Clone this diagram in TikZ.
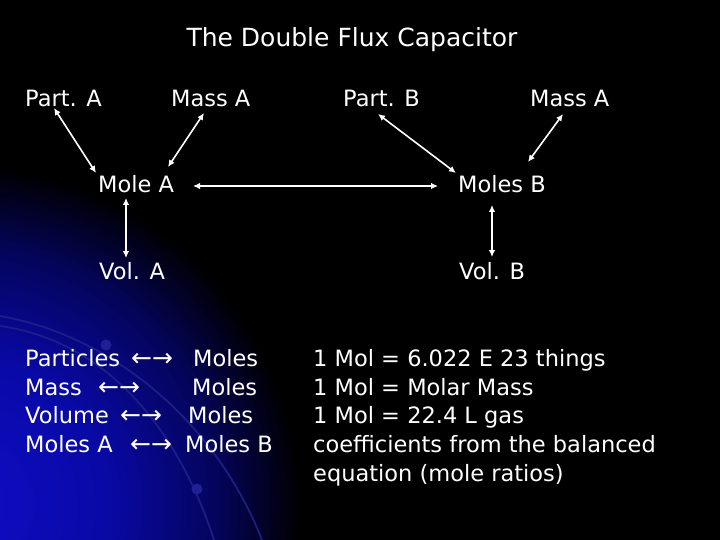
\documentclass[tikz,border=0pt]{standalone}
\usepackage{fontspec}
\setmainfont{DejaVu Sans}
\usetikzlibrary{arrows.meta}
\definecolor{glowA}{RGB}{14,14,200}
\definecolor{glowB}{RGB}{9,9,165}
\definecolor{glowC}{RGB}{4,4,90}
\definecolor{arcblue}{RGB}{34,34,140}
\definecolor{dotblue}{RGB}{32,32,150}
\pgfdeclareradialshading{bgglow}{\pgfpoint{0bp}{0bp}}{color(0bp)=(glowA); color(11bp)=(glowB); color(19bp)=(glowC); color(25bp)=(black); color(50bp)=(black)}
\begin{document}
\begin{tikzpicture}[x=1pt,y=-1pt,
  lbl/.style={inner sep=0pt, anchor=base west, text=white, font=\fontsize{22.5}{27}\selectfont},
  sym/.style={lbl, font=\fontsize{25}{30}\selectfont},
  ttl/.style={inner sep=0pt, anchor=base, text=white, font=\fontsize{25}{30}\selectfont},
  conn/.style={draw=white, line width=1.6pt, {Latex[length=7pt,width=6.5pt]}-{Latex[length=7pt,width=6.5pt]}},
  arcline/.style={draw=arcblue, line width=1.8pt, opacity=0.85}]
\useasboundingbox (0,0) rectangle (720,540);
\fill[black] (0,0) rectangle (720,540);
\begin{scope}
  \clip (0,0) rectangle (720,540);
  \shade[shading=bgglow] (-40,505) circle[radius=340];
  \draw[arcline] (0,316) .. controls (110,335) and (215,420) .. (262,540);
  \draw[arcline] (0,326) .. controls (100,340) and (175,420) .. (214,540);
  \fill[dotblue] (106,345) circle[radius=5.5];
  \fill[dotblue] (197,489) circle[radius=5.5];
\end{scope}

\node[ttl] (title) at (352,47) {The Double Flux Capacitor};

\node[lbl] (partA) at (25,107) {Part. A};
\node[lbl] (massA1) at (171,107) {Mass A};
\node[lbl] (moleA) at (98,193) {Mole A};
\node[lbl] (volA) at (99,279) {Vol. A};
\node[lbl] (partB) at (343,107) {Part. B};
\node[lbl] (massA2) at (530,107) {Mass A};
\node[lbl] (molesB) at (458,193) {Moles B};
\node[lbl] (volB) at (459,279) {Vol. B};

\draw[conn] ([shift={(29,1)}]partA.base west) -- ([shift={(-2,-20)}]moleA.base west);
\draw[conn] ([shift={(33,6)}]massA1.base west) -- ([shift={(70,-26)}]moleA.base west);
\draw[conn] ([shift={(28,5)}]moleA.base west) -- ([shift={(27,-21)}]volA.base west);
\draw[conn] ([shift={(95,-7)}]moleA.base west) -- ([shift={(-20,-7)}]molesB.base west);
\draw[conn] ([shift={(35,7)}]partB.base west) -- ([shift={(-2,-20)}]molesB.base west);
\draw[conn] ([shift={(33,7)}]massA2.base west) -- ([shift={(70,-31)}]molesB.base west);
\draw[conn] ([shift={(34,12)}]molesB.base west) -- ([shift={(33,-22)}]volB.base west);

% left table
\node[lbl] (l1a) at (25,366) {Particles};
\node[sym] (l1b) at (131,366) {←→};
\node[lbl] (l1c) at (193,366) {Moles};
\node[lbl] (l2a) at (25,395) {Mass};
\node[sym] (l2b) at (98,395) {←→};
\node[lbl] (l2c) at (192,395) {Moles};
\node[lbl] (l3a) at (25,423) {Volume};
\node[sym] (l3b) at (120,423) {←→};
\node[lbl] (l3c) at (188,423) {Moles};
\node[lbl] (l4a) at (25,452) {Moles A};
\node[sym] (l4b) at (130,452) {←→};
\node[lbl] (l4c) at (185,452) {Moles B};

% right notes
\node[lbl] (r1) at (313,366) {1 Mol = 6.022 E 23 things};
\node[lbl] (r2) at (313,395) {1 Mol = Molar Mass};
\node[lbl] (r3) at (313,423) {1 Mol = 22.4 L gas};
\node[lbl] (r4) at (313,452) {coefficients from the balanced};
\node[lbl] (r5) at (313,481) {equation (mole ratios)};
\end{tikzpicture}
\end{document}
